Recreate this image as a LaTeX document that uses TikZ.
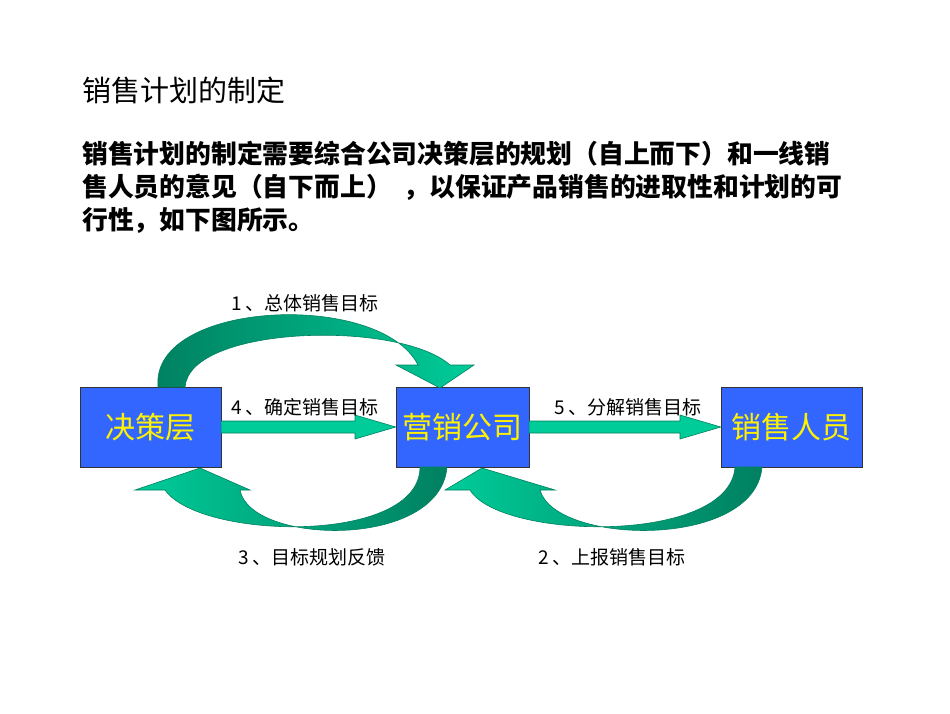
\documentclass[tikz,border=0pt]{standalone}
\usepackage{fontspec}
\setmainfont{Liberation Sans}
\newfontfamily\cjk{Noto Sans CJK SC}
\definecolor{boxblue}{HTML}{3366FF}
\definecolor{arrowgreen}{HTML}{00CC99}
\definecolor{darkgreen}{HTML}{008060}
\tikzset{
  unitbox/.style={draw=black!80,fill=boxblue,text=yellow,minimum width=141pt,minimum height=80pt,font=\cjk\fontsize{30}{30}\selectfont,inner sep=0pt},
  flowlabel/.style={font=\cjk\fontsize{19}{19}\selectfont,inner sep=0pt},
  bigarrow/.style={draw=darkgreen,fill=arrowgreen,line width=0.6pt},
  bendarrow/.style={draw=darkgreen,left color=darkgreen,right color=arrowgreen,line width=0.6pt},
  backarrow/.style={draw=darkgreen,left color=arrowgreen,right color=darkgreen,line width=0.6pt}
}
\begin{document}
\begin{tikzpicture}[x=1pt,y=-1pt]
  \useasboundingbox (0,0) rectangle (950,713);
  % heading and text
  \node[anchor=west,font=\cjk\fontsize{29}{29}\selectfont,inner sep=0pt] (title) at (82,90) {销售计划的制定};
  \node[anchor=north west,align=left,font=\cjk\bfseries\fontsize{25.8}{33}\selectfont,inner sep=0pt] (intro) at (82,141)
    {销售计划的制定需要综合公司决策层的规划（自上而下）和一线销\\售人员的意见（自下而上）\ \ ，以保证产品销售的进取性和计划的可\\行性，如下图所示。};

  % boxes
  \node[unitbox,minimum width=141pt] (dec) at (150.5,427) {决策层};
  \node[unitbox,minimum width=133pt] (mkt) at (462.5,427) {营销公司};
  \node[unitbox,minimum width=141pt] (sales) at (791.5,427) {销售人员};

  % straight arrows
  \draw[bigarrow] (dec.east) ++(0,-6) -- (355,421) -- (355,415) -- (mkt.west) -- (355,439) -- (355,433) -- (221,433) -- cycle;
  \draw[bigarrow] (mkt.east) ++(0,-6) -- (680,421) -- (680,415) -- (sales.west) -- (680,439) -- (680,433) -- (529,433) -- cycle;

  % curved arrows
  \draw[bendarrow] (158,387) .. controls (150,300) and (380,290) .. (418,365) -- (396,365) -- (440,388) -- (474,365) -- (450,365)
    .. controls (400,320) and (190,325) .. (185,387) -- cycle;
  \draw[backarrow] (447,467) .. controls (440,550) and (250,545) .. (240,490) -- (250,490) -- (200,468) -- (135,490) -- (165,490)
    .. controls (200,540) and (420,545) .. (420,467) -- cycle;
  \draw[backarrow] (762,467) .. controls (755,550) and (555,545) .. (540,490) -- (555,490) -- (482,468) -- (445,490) -- (470,490)
    .. controls (500,540) and (730,545) .. (735,467) -- cycle;

  % labels
  \node[flowlabel] (l1) at (305,303) {1 、总体销售目标};
  \node[flowlabel] (l4) at (305,407) {4 、确定销售目标};
  \node[flowlabel] (l5) at (628,407) {5 、分解销售目标};
  \node[flowlabel] (l3) at (312,557) {3 、目标规划反馈};
  \node[flowlabel] (l2) at (612,557) {2 、上报销售目标};
\end{tikzpicture}
\end{document}
